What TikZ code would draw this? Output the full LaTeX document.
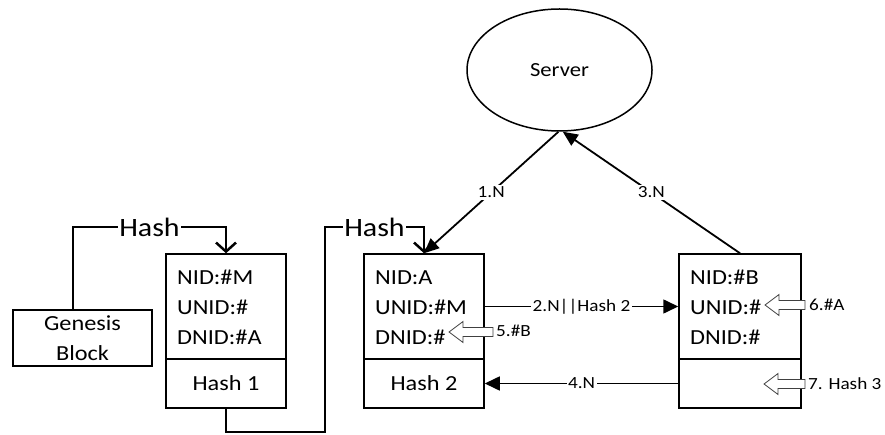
\documentclass[tikz,border=0pt]{standalone}
\usepackage{fontspec}
\setmainfont{Carlito}[FakeStretch=1.13]
\usetikzlibrary{arrows.meta,shapes.geometric}

\begin{document}
\begin{tikzpicture}[x=1pt,y=-1pt,
  box/.style={draw, line width=1.5pt, inner sep=0pt, minimum width=120pt},
  topbox/.style={box, minimum height=105pt},
  botbox/.style={box, minimum height=49pt},
  fld/.style={anchor=base west, inner sep=0pt, font=\fontsize{21.5}{26}\selectfont},
  bigtxt/.style={inner sep=0pt, font=\fontsize{21.5}{30}\selectfont, align=center},
  lbl/.style={fill=white, inner sep=1.5pt, font=\fontsize{17}{20}\selectfont},
  sidelbl/.style={anchor=west, inner sep=0pt, font=\fontsize{17}{20}\selectfont},
  hlbl/.style={fill=white, inner sep=1pt, font=\fontsize{26.5}{30}\selectfont},
  hashline/.style={line width=2.5pt, -{Straight Barb[length=9pt,width=20pt]}},
  srvarrow/.style={line width=1.8pt, -{Triangle[length=15pt,width=13pt]}},
  linkarrow/.style={line width=1.6pt, -{Triangle[length=15pt,width=14pt]}},
  hollow/.style={draw=black!75, fill=white, line width=0.8pt, line join=miter}
]
\useasboundingbox (0,0) rectangle (885,435);

% server
\node[ellipse, draw, line width=1.5pt, minimum width=185pt, minimum height=122pt,
      inner sep=0pt, font=\fontsize{20}{24}\selectfont] (server) at (559.5,70) {Server};

% genesis block
\node[box, minimum width=139pt, minimum height=56pt] (genesis) at (82.5,338) {};
\node[bigtxt] (gtext) at (genesis.center) {Genesis\\Block};

% block 1
\node[topbox] (b1top) at (226,306.5) {};
\node[botbox] (b1bot) at (226,383.5) {};
\node[fld] (b1n) at (177,284) {NID:\#M};
\node[fld] (b1u) at (177,314) {UNID:\#};
\node[fld] (b1d) at (177,344) {DNID:\#A};
\node[bigtxt] (b1h) at (b1bot.center) {Hash 1};

% block 2
\node[topbox] (b2top) at (424,306.5) {};
\node[botbox] (b2bot) at (424,383.5) {};
\node[fld] (b2n) at (375,284) {NID:A};
\node[fld] (b2u) at (375,314) {UNID:\#M};
\node[fld] (b2d) at (375,344) {DNID:\#};
\node[bigtxt] (b2h) at (b2bot.center) {Hash 2};

% block 3
\node[topbox, minimum width=122pt] (b3top) at (740,306.5) {};
\node[botbox, minimum width=122pt] (b3bot) at (740,383.5) {};
\node[fld] (b3n) at (690,284) {NID:\#B};
\node[fld] (b3u) at (690,314) {UNID:\#};
\node[fld] (b3d) at (690,344) {DNID:\#};

% hash links between blocks
\coordinate (g1) at (73,227);
\draw[hashline] (genesis.north -| g1) -- (g1)
  -- node[hlbl] (hash1) {Hash} (b1top.north |- g1) -- (b1top.north);

\coordinate (c1) at (325,432);
\coordinate (c2) at (325,227);
\draw[hashline] (b1bot.south) -- (b1bot.south |- c1) -- (c1) -- (c2)
  -- node[hlbl] (hash2) {Hash} (b2top.north |- c2) -- (b2top.north);

% server messages
\draw[srvarrow] (server.-91) -- node[lbl] (m1) {1.N} (b2top.north);
\draw[srvarrow] (b3top.north) -- node[lbl] (m3) {3.N} (server.-87);

% messages between blocks
\draw[linkarrow] (b2top.east) -- node[lbl] (m2) {2.N||Hash 2} (b3top.west);
\draw[linkarrow] (b3bot.west) -- node[lbl] (m4) {4.N} (b2bot.east);

% hollow update arrows
\coordinate (t5) at (449,332);
\draw[hollow] (t5) -- ++(14,-10.5) -- ++(0,6) -- ++(30,0) -- ++(0,9)
  -- ++(-30,0) -- ++(0,6) -- cycle;
\node[sidelbl] (m5) at (496,331) {5.\#B};

\coordinate (t6) at (765,305);
\draw[hollow] (t6) -- ++(14,-10.5) -- ++(0,6) -- ++(26,0) -- ++(0,9)
  -- ++(-26,0) -- ++(0,6) -- cycle;
\node[sidelbl] (m6) at (809,305) {6.\#A};

\coordinate (t7) at (764,384);
\draw[hollow] (t7) -- ++(14,-10.5) -- ++(0,6) -- ++(27,0) -- ++(0,9)
  -- ++(-27,0) -- ++(0,6) -- cycle;
\node[sidelbl] (m7) at (808,384) {7. Hash 3};

\end{tikzpicture}
\end{document}
